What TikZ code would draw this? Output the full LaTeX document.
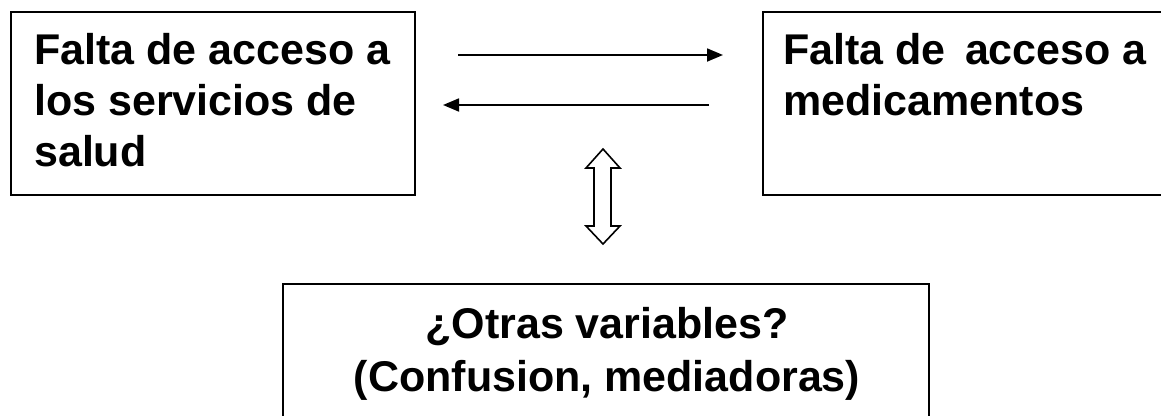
\documentclass[tikz,border=0pt]{standalone}
\usepackage{fontspec}
\setmainfont{Liberation Sans}
\usetikzlibrary{arrows.meta}
\begin{document}
\begin{tikzpicture}[x=1pt,y=-1pt,
  boxstyle/.style={draw=black, line width=1.6pt, inner sep=0pt, anchor=north west},
  txt/.style={inner sep=0pt, align=left, font=\fontsize{43}{51}\selectfont\bfseries, anchor=north west},
  ctxt/.style={inner sep=0pt, align=center, font=\fontsize{43}{53}\selectfont\bfseries, anchor=north},
  conn/.style={line width=1.8pt, -{Triangle[length=16pt,width=13pt]}}]
\useasboundingbox (0,0) rectangle (1161,415);
\fill[white] (0,0) rectangle (1161,415);
% boxes
\node[boxstyle, minimum width=404pt, minimum height=183pt] (L) at (10,11) {};
\node[boxstyle, minimum width=420pt, minimum height=183pt] (R) at (762,11) {};
\node[boxstyle, minimum width=646pt, minimum height=150pt] (B) at (282,283) {};
% texts
\node[txt] (Lt) at (34,33) {Falta de acceso a\\los servicios de\\salud};
\node[txt] (Rt) at (783,33) {Falta de\hspace{0.45em}acceso a\\medicamentos};
\node[ctxt] (Bt) at (607,307) {¿Otras variables?\\(Confusion, mediadoras)};
% arrows
\coordinate (a1s) at (458,55);
\coordinate (a1e) at (723,55);
\coordinate (a2s) at (709,105);
\coordinate (a2e) at (443,105);
\draw[conn] (a1s) -- (a1e);
\draw[conn] (a2s) -- (a2e);
% double hollow arrow
\coordinate (dt) at (603,149);
\coordinate (db) at (603,244);
\draw[line width=1.6pt, line join=miter, fill=white]
  (dt) -- (620,168) -- (611,168) -- (611,226) -- (620,226) -- (db)
  -- (586,226) -- (594,226) -- (594,168) -- (586,168) -- cycle;
\end{tikzpicture}
\end{document}
